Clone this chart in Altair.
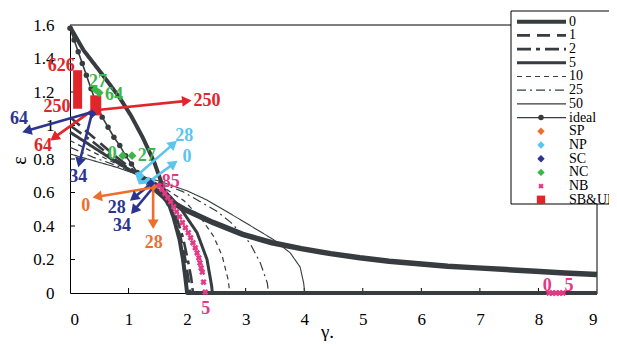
import math
import altair as alt
import pandas as pd

SERIF = "Liberation Serif"
DARK = "#363c3f"
RED = "#e1252b"
BLUE = "#2b3590"
ORANGE = "#ee6f2c"
LBLUE = "#5ac5ee"
GREEN = "#3db54a"
PINK = "#e23a86"

W, H = 527, 268
PXG = W / 9.0
PXE = H / 1.6

# ---------------- data ----------------
x_ticks = [0, 1, 2, 3, 4, 5, 6, 7, 8, 9]
y_ticks = [0, 0.2, 0.4, 0.6, 0.8, 1.0, 1.2, 1.4, 1.6]

c0_g = [0, 0.23, 0.54, 0.84, 1.04, 1.24, 1.44, 1.56, 1.66, 1.77, 1.87, 1.93, 1.97, 2.0, 9.0]
c0_e = [1.59, 1.45, 1.31, 1.17, 1.06, 0.93, 0.78, 0.66, 0.56, 0.45, 0.32, 0.2, 0.09, 0, 0]
c1_g = [0, 0.4, 0.8, 1.2, 1.3, 1.5, 1.65, 1.78, 1.89, 1.97, 2.02, 2.05]
c1_e = [1.05, 0.93, 0.81, 0.70, 0.67, 0.61, 0.54, 0.45, 0.33, 0.20, 0.09, 0]
c2_g = [0, 0.4, 0.8, 1.2, 1.3, 1.52, 1.68, 1.82, 1.93, 2.01, 2.07, 2.1]
c2_e = [1.00, 0.90, 0.79, 0.70, 0.67, 0.61, 0.54, 0.45, 0.33, 0.20, 0.09, 0]
c5_g = [0, 0.4, 0.8, 1.2, 1.3, 1.54, 1.88, 2.17, 2.34, 2.42, 2.43]
c5_e = [0.96, 0.87, 0.78, 0.70, 0.68, 0.64, 0.51, 0.36, 0.20, 0.04, 0]
c10_g = [0, 0.4, 0.8, 1.2, 1.3, 1.55, 1.95, 2.25, 2.45, 2.6, 2.7, 2.73]
c10_e = [0.91, 0.84, 0.77, 0.70, 0.68, 0.64, 0.55, 0.44, 0.34, 0.22, 0.08, 0]
c25_g = [0, 0.4, 0.8, 1.2, 1.3, 1.55, 1.93, 2.5, 2.75, 3.07, 3.25, 3.37, 3.39]
c25_e = [0.87, 0.81, 0.76, 0.70, 0.685, 0.655, 0.605, 0.49, 0.42, 0.30, 0.18, 0.06, 0]
c50_g = [0, 0.4, 0.8, 1.2, 1.3, 1.55, 1.71, 2.0, 2.34, 2.9, 3.47, 3.76, 3.93, 3.99, 4.01]
c50_e = [0.83, 0.79, 0.75, 0.70, 0.69, 0.665, 0.645, 0.61, 0.555, 0.44, 0.32, 0.24, 0.155, 0.06, 0]

ideal_g = [0, 0.07, 0.14, 0.21, 0.28, 0.36, 0.45, 0.55, 0.65, 0.75, 0.85, 0.95, 1.05, 1.15,
           1.25, 1.35, 1.45, 1.65, 1.95, 2.45, 2.95, 3.45, 3.95, 4.45, 4.95, 5.45, 5.95,
           6.45, 6.95, 7.45, 7.95, 8.45, 9.0]
ideal_e = [1.58, 1.51, 1.44, 1.37, 1.30, 1.22, 1.13, 1.05, 0.99, 0.93, 0.88, 0.82, 0.77, 0.72,
           0.68, 0.65, 0.62, 0.56, 0.50, 0.42, 0.35, 0.30, 0.265, 0.235, 0.21, 0.19, 0.175,
           0.16, 0.15, 0.14, 0.13, 0.12, 0.11]

nb_g = [1.52, 1.57, 1.62, 1.67, 1.72, 1.77, 1.82, 1.87, 1.92, 1.97, 2.02, 2.06, 2.10, 2.14,
        2.17, 2.20, 2.22, 2.24, 2.26, 2.28, 2.31, 8.18, 8.24, 8.30, 8.36, 8.42]
nb_e = [0.64, 0.62, 0.595, 0.57, 0.545, 0.515, 0.485, 0.455, 0.42, 0.39, 0.36, 0.33, 0.30, 0.27,
        0.24, 0.21, 0.18, 0.15, 0.125, 0.065, 0.005, 0, 0, 0, 0, 0]

pt_series = ["SP", "NP", "NP", "SC", "SC", "NC", "NC", "NC", "NC"]
pt_g = [1.42, 1.2, 1.33, 0.38, 1.38, 0.43, 0.5, 0.9, 1.06]
pt_e = [0.635, 0.70, 0.67, 1.07, 0.655, 1.215, 1.195, 0.82, 0.82]

sbur_g = [0.13, 0.44]
sbur_lo = [1.10, 1.06]
sbur_hi = [1.33, 1.18]

np_path_g = [1.14, 1.2, 1.45]
np_path_e = [0.72, 0.66, 0.67]

arr_series = ["SB&UR", "SB&UR", "SC", "SC", "SC", "SC", "SP", "SP", "NP", "NP"]
arr_g0 = [0.39, 0.38, 0.38, 0.38, 1.38, 1.42, 1.42, 1.42, 1.14, 1.37]
arr_e0 = [1.09, 1.09, 1.08, 1.08, 0.65, 0.63, 0.63, 0.63, 0.70, 0.67]
arr_g1 = [2.08, -0.34, -0.82, 0.14, 1.02, 1.04, 0.38, 1.42, 1.83, 1.84]
arr_e1 = [1.15, 0.91, 0.96, 0.75, 0.55, 0.47, 0.57, 0.38, 0.91, 0.79]

lbl_text = ["626", "250", "250", "64", "64", "34", "28", "34", "0", "28", "28", "0",
            "27", "64", "0", "27", "85", "5", "0", "5"]
lbl_series = ["SB&UR"] * 4 + ["SC"] * 4 + ["SP"] * 2 + ["NP"] * 2 + ["NC"] * 4 + ["NB"] * 4
lbl_g = [-0.15, -0.22, 2.34, -0.46, -0.87, 0.14, 0.80, 0.89, 0.27, 1.43, 1.95, 2.0,
         0.48, 0.75, 0.72, 1.31, 1.72, 2.32, 8.15, 8.52]
lbl_e = [1.355, 1.11, 1.146, 0.88, 1.04, 0.69, 0.51, 0.40, 0.52, 0.30, 0.94, 0.81,
         1.26, 1.18, 0.83, 0.82, 0.66, -0.095, 0.04, 0.04]

legend_rows = ["0", "1", "2", "5", "10", "25", "50", "ideal", "SP", "NP", "SC", "NC", "NB", "SB&UR"]

# ---------------- styles ----------------
COL = {"SP": ORANGE, "NP": LBLUE, "SC": BLUE, "NC": GREEN, "NB": PINK, "SB&UR": RED}
LSTY = {"0": (4.0, [1, 0]), "1": (2.6, [13, 7]), "2": (2.6, [14, 5, 4, 5]), "5": (3.0, [1, 0]),
        "10": (1.2, [5, 4]), "25": (1.2, [9, 4, 2, 4]), "50": (1.1, [1, 0])}

xs = alt.Scale(domain=[0, 9], nice=False, zero=False)
ys = alt.Scale(domain=[0, 1.6], nice=False, zero=False)
xaxis = alt.Axis(values=x_ticks, format="d", ticks=False, grid=False, domainColor="black",
                 domainWidth=1, labelFont=SERIF, labelFontSize=17, labelColor="black",
                 labelPadding=18, title="γ.", titleFont=SERIF, titleFontSize=19,
                 titleFontWeight="normal", titleColor="black", titleX=257, titleY=38,
                 titleAlign="center", titleBaseline="middle")
yaxis = alt.Axis(values=y_ticks, format=".1~f", ticks=False, grid=False, domainColor="black",
                 domainWidth=1, labelFont=SERIF, labelFontSize=17, labelColor="black",
                 labelPadding=16, title="ε", titleFont=SERIF, titleFontSize=20,
                 titleFontWeight="normal", titleColor="black", titleX=-51, titleY=135,
                 titleAngle=270, titleAlign="center", titleBaseline="middle")


def X(f="g"):
    return alt.X(f"{f}:Q", scale=xs, axis=xaxis)


def Y(f="e"):
    return alt.Y(f"{f}:Q", scale=ys, axis=yaxis)


one = pd.DataFrame({"a": [0]})
layers = []

# frame (top and right) and inward ticks
layers.append(alt.Chart(one).mark_rule(color="black", strokeWidth=1).encode(
    x=alt.value(0), x2=alt.value(W), y=alt.value(0)))
layers.append(alt.Chart(one).mark_rule(color="black", strokeWidth=1).encode(
    x=alt.value(W), y=alt.value(0), y2=alt.value(H)))
layers.append(alt.Chart(pd.DataFrame({"g": x_ticks[1:-1]})).mark_rule(color="black").encode(
    x=X(), y=alt.value(H), y2=alt.value(H - 5)))
layers.append(alt.Chart(pd.DataFrame({"e": y_ticks[1:-1]})).mark_rule(color="black").encode(
    y=Y(), x=alt.value(0), x2=alt.value(5)))

# curves
curves = [("50", c50_g, c50_e), ("25", c25_g, c25_e), ("10", c10_g, c10_e), ("5", c5_g, c5_e),
          ("2", c2_g, c2_e), ("1", c1_g, c1_e), ("0", c0_g, c0_e)]
for name, gs, es in curves:
    w, d = LSTY[name]
    df = pd.DataFrame({"g": gs, "e": es, "i": range(len(gs))})
    layers.append(alt.Chart(df).mark_line(color=DARK, strokeWidth=w, strokeDash=d,
                                          strokeJoin="round").encode(x=X(), y=Y(), order="i:Q"))

# ideal
idf = pd.DataFrame({"g": ideal_g, "e": ideal_e, "i": range(len(ideal_g))})
layers.append(alt.Chart(idf).mark_line(color=DARK, strokeWidth=1.6).encode(x=X(), y=Y(), order="i:Q"))
layers.append(alt.Chart(idf).transform_filter("datum.g >= 1.35").mark_line(
    color=DARK, strokeWidth=5.5, strokeJoin="round").encode(x=X(), y=Y(), order="i:Q"))
layers.append(alt.Chart(idf).transform_filter("datum.g <= 1.35").mark_point(
    shape="circle", filled=True, size=30, color=DARK, opacity=1).encode(x=X(), y=Y()))

# NB markers
layers.append(alt.Chart(pd.DataFrame({"g": nb_g, "e": nb_e})).mark_point(
    shape="cross", angle=45, filled=True, size=40, color=PINK, opacity=1).encode(x=X(), y=Y()))

# SB&UR bars
layers.append(alt.Chart(pd.DataFrame({"g": sbur_g, "e": sbur_lo, "e2": sbur_hi, "w": [9, 11]})).mark_rule(
    color=RED).encode(x=X(), y=Y(), y2="e2:Q", strokeWidth=alt.StrokeWidth("w:Q", scale=None)))

# NP bracket
layers.append(alt.Chart(pd.DataFrame({"g": np_path_g, "e": np_path_e, "i": [0, 1, 2]})).mark_line(
    color=LBLUE, strokeWidth=4).encode(x=X(), y=Y(), order="i:Q"))

# arrows
rows = []
for s, g0, e0, g1, e1 in zip(arr_series, arr_g0, arr_e0, arr_g1, arr_e1):
    dx = (g1 - g0) * PXG
    dy = -(e1 - e0) * PXE
    ang = math.atan2(dy, dx)
    back = 5.0
    hg = g1 - back * math.cos(ang) / PXG
    he = e1 + back * math.sin(ang) / PXE
    rows.append({"g": g0, "e": e0, "g2": hg, "e2": he, "hg": hg, "he": he,
                 "ang": math.degrees(ang) % 360, "col": COL[s]})
adf = pd.DataFrame(rows)
layers.append(alt.Chart(adf).mark_rule(strokeWidth=2.6).encode(
    x=X(), y=Y(), x2="g2:Q", y2="e2:Q", color=alt.Color("col:N", scale=None)))
layers.append(alt.Chart(adf).mark_point(shape="triangle-right", filled=True, size=120, opacity=1).encode(
    x=X("hg"), y=Y("he"), angle=alt.Angle("ang:Q", scale=None), color=alt.Color("col:N", scale=None)))

# diamonds
pdf = pd.DataFrame({"g": pt_g, "e": pt_e, "col": [COL[s] for s in pt_series]})
layers.append(alt.Chart(pdf).mark_point(shape="diamond", filled=True, size=75, opacity=1).encode(
    x=X(), y=Y(), color=alt.Color("col:N", scale=None)))

# labels
ldf = pd.DataFrame({"g": lbl_g, "e": lbl_e, "t": lbl_text, "col": [COL[s] for s in lbl_series]})
layers.append(alt.Chart(ldf).mark_text(font=SERIF, fontSize=18, fontWeight="bold", align="center",
                                       baseline="middle").encode(
    x=X(), y=Y(), text="t:N", color=alt.Color("col:N", scale=None)))

# legend
LX0, LX1, LMX, LTX = 447, 496, 471, 499


def ry(i):
    return -3.3 + 13.7 * i


layers.append(alt.Chart(one).mark_rect(fill="white", stroke="black", strokeWidth=1).encode(
    x=alt.value(441), x2=alt.value(580), y=alt.value(-14), y2=alt.value(179)))
for i, name in enumerate(legend_rows):
    if name in LSTY:
        w, d = LSTY[name]
        layers.append(alt.Chart(one).mark_rule(color=DARK, strokeWidth=w, strokeDash=d,
                                               strokeCap="butt").encode(
            x=alt.value(LX0), x2=alt.value(LX1), y=alt.value(ry(i))))
    elif name == "ideal":
        layers.append(alt.Chart(one).mark_rule(color=DARK, strokeWidth=1.3).encode(
            x=alt.value(LX0), x2=alt.value(LX1), y=alt.value(ry(i))))
        layers.append(alt.Chart(one).mark_point(shape="circle", filled=True, size=30, color=DARK,
                                                opacity=1).encode(x=alt.value(LMX), y=alt.value(ry(i))))
    elif name == "NB":
        layers.append(alt.Chart(one).mark_point(shape="cross", angle=45, filled=True, size=30,
                                                color=PINK, opacity=1).encode(
            x=alt.value(LMX), y=alt.value(ry(i))))
    elif name == "SB&UR":
        layers.append(alt.Chart(one).mark_point(shape="square", filled=True, size=70,
                                                color=RED, opacity=1).encode(
            x=alt.value(LMX), y=alt.value(ry(i))))
    else:
        layers.append(alt.Chart(one).mark_point(shape="diamond", filled=True, size=55,
                                                color=COL[name], opacity=1).encode(
            x=alt.value(LMX), y=alt.value(ry(i))))
layers.append(alt.Chart(one).mark_text(font=SERIF, fontSize=14, align="left", baseline="middle",
                                       lineBreak="\n", lineHeight=13.7, color="black").encode(
    x=alt.value(LTX), y=alt.value(ry(0)), text=alt.value("\n".join(legend_rows))))

chart = alt.layer(*layers).properties(
    width=W, height=H,
    autosize=alt.AutoSizeParams(type="none"),
    padding={"left": 62, "top": 17, "right": 12, "bottom": 48},
).configure_view(strokeWidth=0)

chart.save("out.html", embed_options={"renderer": "svg", "actions": False})
